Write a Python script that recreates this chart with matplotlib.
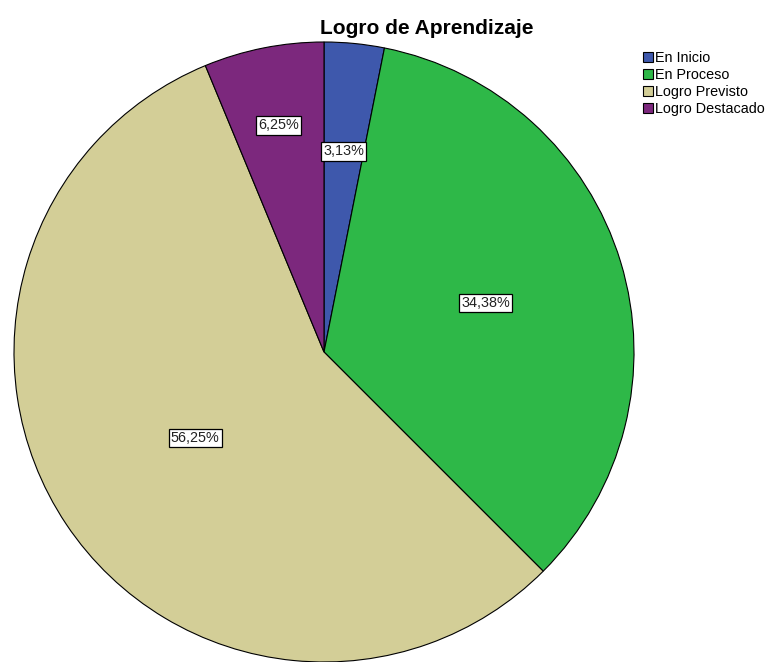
import numpy as np
import matplotlib.pyplot as plt

plt.rcParams['font.family'] = ['Liberation Sans', 'DejaVu Sans']

categories = ['En Inicio', 'En Proceso', 'Logro Previsto', 'Logro Destacado']
counts = [1, 11, 18, 2]
pct_labels = ['3,13%', '34,38%', '56,25%', '6,25%']
colors = ['#3E58AC', '#2EB848', '#D3CE97', '#7C287D']
label_dist = [0.65, 0.545, 0.50, 0.745]

fig = plt.figure(figsize=(7.72, 6.62), dpi=100)
cx, cy, r = 324, 352, 310
ax = fig.add_axes([(cx - r) / 772, (662 - cy - r) / 662, 2 * r / 772, 2 * r / 662])

wedges, _ = ax.pie(counts, colors=colors, startangle=90, counterclock=False,
                   radius=1, wedgeprops=dict(edgecolor='black', linewidth=0.8))
ax.set_xlim(-1, 1)
ax.set_ylim(-1, 1)
ax.set_aspect('auto')
ax.axis('off')

for w, lab, d in zip(wedges, pct_labels, label_dist):
    ang = np.deg2rad((w.theta1 + w.theta2) / 2)
    ax.text(d * np.cos(ang), d * np.sin(ang), lab, ha='center', va='center',
            fontsize=10.4, color='#222222',
            bbox=dict(boxstyle='square,pad=0.15', fc='white', ec='black', lw=0.9))

fig.text(427 / 772, 1 - 28 / 662, 'Logro de Aprendizaje', ha='center', va='center',
         fontsize=15, fontweight='bold')

fig.legend(wedges, categories, loc='upper left', bbox_to_anchor=(643 / 772, 1 - 51 / 662),
           frameon=False, fontsize=10.4, handlelength=0.7, handleheight=0.7,
           handletextpad=0.15, labelspacing=0.2, borderaxespad=0, borderpad=0)

fig.savefig('out.png', dpi=100)
